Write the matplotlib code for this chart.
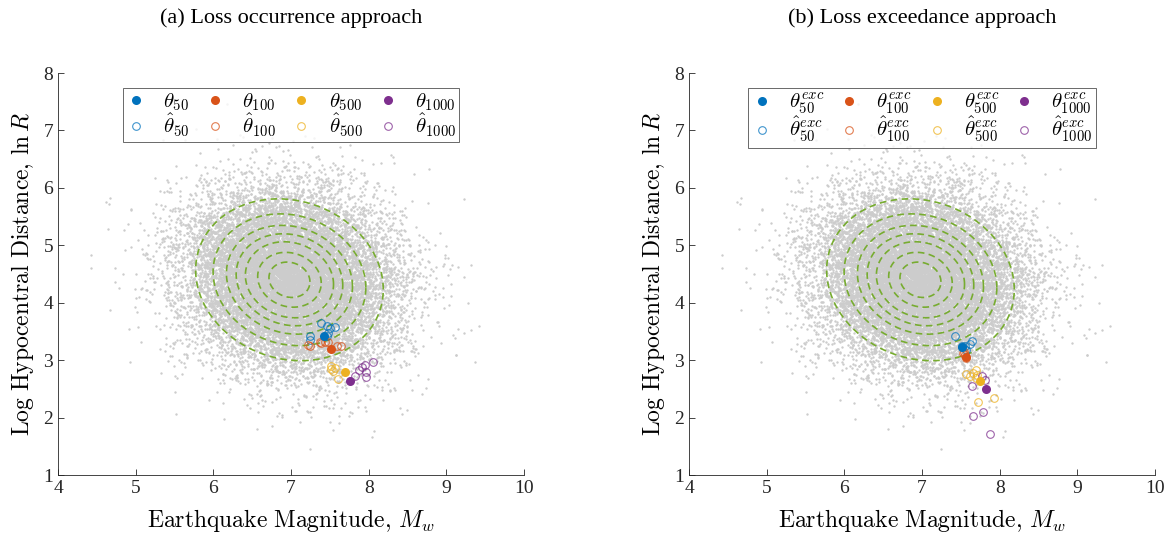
import numpy as np
import matplotlib
matplotlib.use("Agg")
import matplotlib.pyplot as plt

plt.rcParams['font.family'] = ['Liberation Serif', 'DejaVu Serif']
plt.rcParams['mathtext.fontset'] = 'cm'

# background scenario cloud: bivariate normal fitted by eye (mean, std, corr)
cloud_mean = [6.98, 4.40]
cloud_std = [0.66, 0.77]
cloud_rho = -0.12
cloud_n = 16000
# contour radii (Mahalanobis units) of the dashed green ellipses
contour_r = [1.83, 1.49, 1.23, 1.04, 0.86, 0.62, 0.40]

colors = ['#0072BD', '#D95319', '#EDB120', '#7E2F8E']
rp = ['50', '100', '500', '1000']

# (a) loss occurrence: optimal points theta and estimates theta-hat
occ_theta_x = [7.43, 7.52, 7.69, 7.76]
occ_theta_y = [3.42, 3.20, 2.80, 2.64]
occ_hat_x = [
    [7.39, 7.46, 7.50, 7.57, 7.25, 7.24, 7.48, 7.46],
    [7.24, 7.38, 7.44, 7.48, 7.59, 7.65, 7.22, 7.37],
    [7.52, 7.57, 7.54, 7.61, 7.51],
    [7.87, 7.95, 8.06, 7.97, 7.96, 7.83, 7.91],
]
occ_hat_y = [
    [3.64, 3.59, 3.56, 3.57, 3.42, 3.35, 3.47, 3.42],
    [3.24, 3.30, 3.31, 3.32, 3.25, 3.24, 3.27, 3.31],
    [2.90, 2.86, 2.82, 2.67, 2.84],
    [2.83, 2.92, 2.96, 2.71, 2.80, 2.73, 2.88],
]

# (b) loss exceedance
exc_theta_x = [7.51, 7.57, 7.75, 7.82]
exc_theta_y = [3.23, 3.06, 2.64, 2.50]
exc_hat_x = [
    [7.43, 7.65, 7.62, 7.55, 7.57, 7.51],
    [7.53, 7.57, 7.55, 7.54],
    [7.56, 7.62, 7.66, 7.71, 7.72, 7.93, 7.69, 7.70],
    [7.77, 7.81, 7.64, 7.66, 7.79, 7.87],
]
exc_hat_y = [
    [3.42, 3.34, 3.28, 3.24, 3.18, 3.25],
    [3.12, 3.03, 3.09, 3.15],
    [2.76, 2.73, 2.78, 2.74, 2.28, 2.34, 2.69, 2.83],
    [2.72, 2.66, 2.55, 2.03, 2.09, 1.71],
]

cov = np.array([[cloud_std[0] ** 2, cloud_rho * cloud_std[0] * cloud_std[1]],
                [cloud_rho * cloud_std[0] * cloud_std[1], cloud_std[1] ** 2]])
rng = np.random.default_rng(3)
cloud = rng.multivariate_normal(cloud_mean, cov, cloud_n)
L = np.linalg.cholesky(cov)
t = np.linspace(0, 2 * np.pi, 300)

fig = plt.figure(figsize=(11.72, 5.35), dpi=100)
ax1 = fig.add_axes([0.0495, 0.1121, 0.3976, 0.7514])
ax2 = fig.add_axes([0.5879, 0.1121, 0.3976, 0.7514])


def panel(ax, title, tx, ty, hx, hy, sup):
    ax.scatter(cloud[:, 0], cloud[:, 1], s=3, color='#cccccc', linewidths=0, zorder=1)
    for r in contour_r:
        e = L @ np.vstack([r * np.cos(t), r * np.sin(t)])
        ax.plot(e[0] + cloud_mean[0], e[1] + cloud_mean[1], color='#77AC30',
                lw=1.2, ls=(0, (4, 2.6)), zorder=2)
    for i in range(4):
        ax.plot(tx[i], ty[i], 'o', color=colors[i], ms=6.5, mec='none', zorder=4,
                label=r'$\theta_{%s}%s$' % (rp[i], sup))
        ax.plot(hx[i], hy[i], 'o', mfc='none', mec=colors[i], mew=0.8, ms=5.5,
                alpha=0.75, ls='none', zorder=3,
                label=r'$\hat{\theta}_{%s}%s$' % (rp[i], sup))
    ax.set_xlim(4, 10)
    ax.set_ylim(1, 8)
    ax.set_xticks(range(4, 11))
    ax.set_yticks(range(1, 9))
    ax.spines['top'].set_visible(False)
    ax.spines['right'].set_visible(False)
    for s in ['left', 'bottom']:
        ax.spines[s].set_color('#262626')
        ax.spines[s].set_linewidth(0.6)
    ax.tick_params(direction='in', length=4, width=0.6, labelsize=14, colors='#262626')
    ax.set_xlabel(r'$\mathrm{Earthquake\ Magnitude,}\,M_w$', fontsize=17, labelpad=7)
    ax.set_ylabel(r'$\mathrm{Log\ Hypocentral\ Distance,}\,\ln R$', fontsize=17, labelpad=5)
    ax.set_title(title, fontsize=16, pad=36)
    leg = ax.legend(loc='upper center', bbox_to_anchor=(0.5, 0.962), ncol=4,
                    fontsize=15, frameon=True, fancybox=False, handlelength=1.0,
                    handletextpad=0.8, columnspacing=0.7, labelspacing=-0.05,
                    borderpad=0.15, borderaxespad=0)
    leg.get_frame().set_edgecolor('#262626')
    leg.get_frame().set_linewidth(0.6)


panel(ax1, '(a) Loss occurrence approach', occ_theta_x, occ_theta_y,
      occ_hat_x, occ_hat_y, '')
panel(ax2, '(b) Loss exceedance approach', exc_theta_x, exc_theta_y,
      exc_hat_x, exc_hat_y, '^{exc}')

fig.savefig('out.png', dpi=100)
